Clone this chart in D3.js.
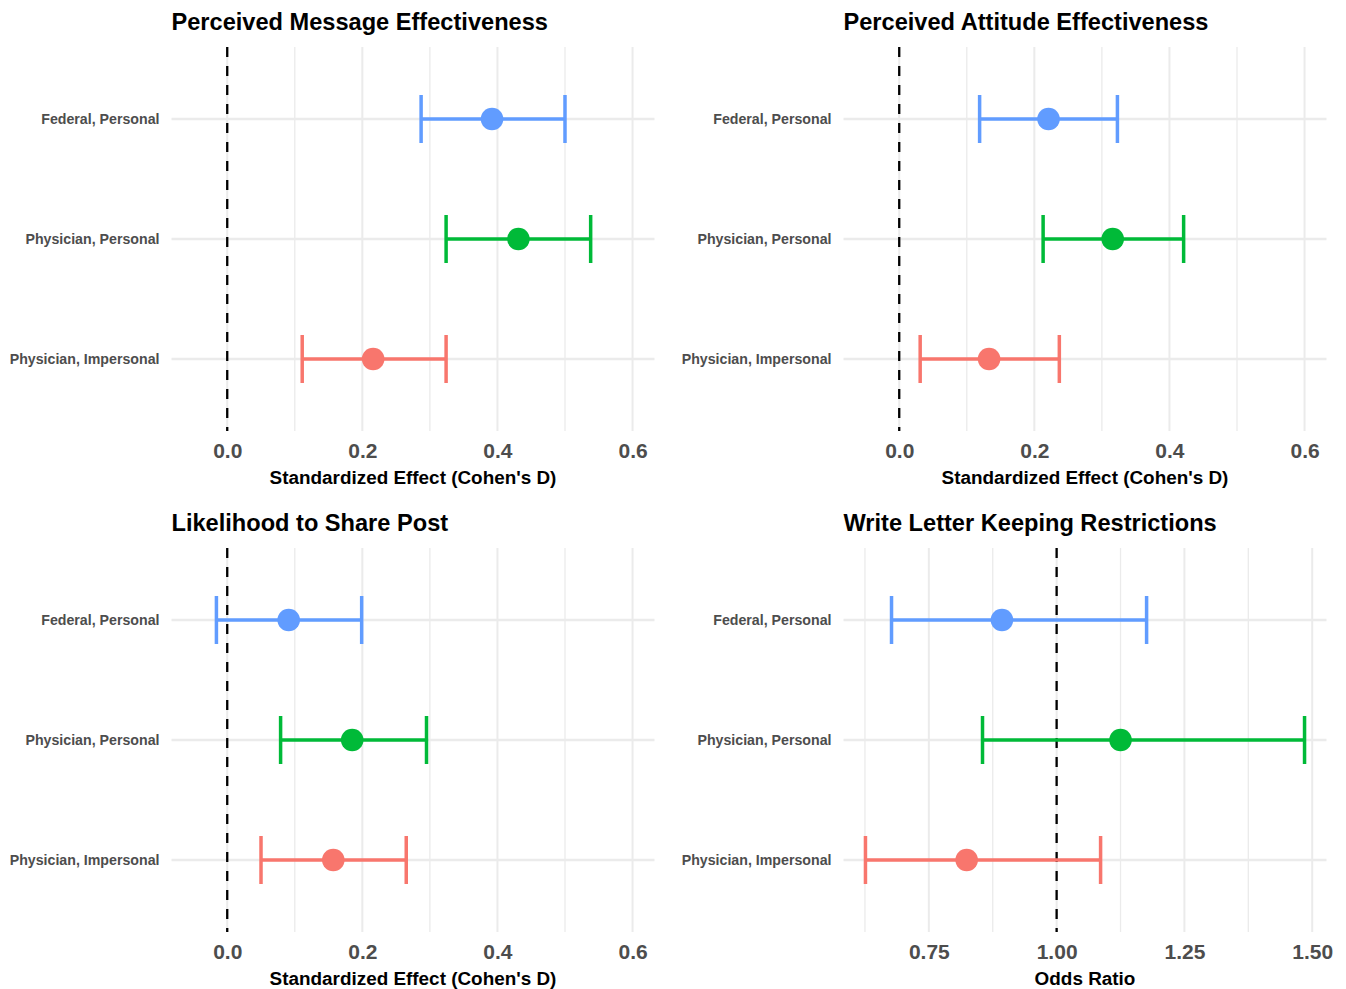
<!DOCTYPE html>
<html>
<head>
<meta charset="utf-8">
<script src="https://cdn.jsdelivr.net/npm/d3@7"></script>
<style>
  html, body { margin: 0; padding: 0; background: #fff; }
  svg { display: block; font-family: "Liberation Sans", Arial, Helvetica, sans-serif; }
</style>
</head>
<body>
<svg id="chart" width="1346" height="989"></svg>
<script>
// ---- data ----
const categories = ["Federal, Personal", "Physician, Personal", "Physician, Impersonal"];
const colors = ["#619CFF", "#00BA38", "#F8766D"];

const titles = [
  "Perceived Message Effectiveness",
  "Perceived Attitude Effectiveness",
  "Likelihood to Share Post",
  "Write Letter Keeping Restrictions"
];
const xTitles = [
  "Standardized Effect (Cohen's D)",
  "Standardized Effect (Cohen's D)",
  "Standardized Effect (Cohen's D)",
  "Odds Ratio"
];
const refLines = [0, 0, 0, 1];

// estimates, lower, upper (order follows categories)
const est1 = [0.392, 0.431, 0.216], lo1 = [0.287, 0.324, 0.111], hi1 = [0.500, 0.538, 0.324];
const est2 = [0.221, 0.316, 0.133], lo2 = [0.119, 0.213, 0.031], hi2 = [0.323, 0.421, 0.237];
const est3 = [0.091, 0.185, 0.157], lo3 = [-0.016, 0.079, 0.050], hi3 = [0.199, 0.295, 0.265];
const est4 = [0.893, 1.125, 0.824], lo4 = [0.677, 0.855, 0.626], hi4 = [1.176, 1.485, 1.086];

const ests = [est1, est2, est3, est4];
const los = [lo1, lo2, lo3, lo4];
const his = [hi1, hi2, hi3, hi4];

const effLimits = [-0.05, 0.6];
const effMajor = [0.0, 0.2, 0.4, 0.6];
const effMinor = [0.1, 0.3, 0.5];
const orMajor = [0.75, 1.00, 1.25, 1.50];
const orMinor = [0.625, 0.875, 1.125, 1.375];

// ---- layout ----
const svg = d3.select("#chart");
const panels = [
  {x0: 171.5, x1: 654.5, y0: 47, y1: 431},
  {x0: 843.5, x1: 1326.5, y0: 47, y1: 431},
  {x0: 171.5, x1: 654.5, y0: 548, y1: 932},
  {x0: 843.5, x1: 1326.5, y0: 548, y1: 932}
];

function expand(lim) {
  const r = lim[1] - lim[0];
  return [lim[0] - 0.05 * r, lim[1] + 0.05 * r];
}

panels.forEach((p, i) => {
  const g = svg.append("g");
  let dom, major, minor, fmt;
  if (i < 3) {
    dom = expand(effLimits); major = effMajor; minor = effMinor; fmt = d3.format(".1f");
  } else {
    dom = expand([d3.min(los[i]), d3.max(his[i])]); major = orMajor; minor = orMinor; fmt = d3.format(".2f");
  }
  const x = d3.scaleLinear().domain(dom).range([p.x0, p.x1]);
  const y = d3.scalePoint().domain(categories).range([p.y0, p.y1]).padding(0.6);

  // grid
  g.selectAll(".minor").data(minor).enter().append("line")
    .attr("x1", d => x(d)).attr("x2", d => x(d))
    .attr("y1", p.y0).attr("y2", p.y1)
    .attr("stroke", "#EBEBEB").attr("stroke-width", 1.3);
  g.selectAll(".major").data(major).enter().append("line")
    .attr("x1", d => x(d)).attr("x2", d => x(d))
    .attr("y1", p.y0).attr("y2", p.y1)
    .attr("stroke", "#EBEBEB").attr("stroke-width", 2);
  g.selectAll(".hmajor").data(categories).enter().append("line")
    .attr("x1", p.x0).attr("x2", p.x1)
    .attr("y1", d => y(d)).attr("y2", d => y(d))
    .attr("stroke", "#EBEBEB").attr("stroke-width", 2.4);

  // reference line
  g.append("line")
    .attr("x1", x(refLines[i])).attr("x2", x(refLines[i]))
    .attr("y1", p.y0).attr("y2", p.y1)
    .attr("stroke", "#000").attr("stroke-width", 2.3)
    .attr("stroke-dasharray", "10,9");

  // error bars
  const capH = y.step() * 0.4;
  categories.forEach((c, k) => {
    const cy = y(c);
    const col = colors[k];
    g.append("line")
      .attr("x1", x(los[i][k])).attr("x2", x(his[i][k]))
      .attr("y1", cy).attr("y2", cy)
      .attr("stroke", col).attr("stroke-width", 3.5);
    [los[i][k], his[i][k]].forEach(v => {
      g.append("line")
        .attr("x1", x(v)).attr("x2", x(v))
        .attr("y1", cy - capH / 2).attr("y2", cy + capH / 2)
        .attr("stroke", col).attr("stroke-width", 3.5);
    });
    g.append("circle")
      .attr("cx", x(ests[i][k])).attr("cy", cy).attr("r", 11.3)
      .attr("fill", col);
  });

  // x axis
  const xa = g.append("g").attr("transform", `translate(0,${p.y1 + 12})`)
    .call(d3.axisBottom(x).tickValues(major).tickFormat(fmt).tickSize(0).tickPadding(0));
  xa.select(".domain").remove();
  xa.selectAll("text")
    .attr("dy", "0.71em")
    .attr("fill", "#4D4D4D")
    .style("font-size", "21px").style("font-weight", "bold")
    .style("font-family", "'Liberation Sans', Arial, sans-serif");

  // y axis
  const ya = g.append("g").attr("transform", `translate(${p.x0 - 12},0)`)
    .call(d3.axisLeft(y).tickSize(0).tickPadding(0));
  ya.select(".domain").remove();
  ya.selectAll("text")
    .attr("fill", "#4D4D4D")
    .style("font-size", "14.2px").style("font-weight", "bold")
    .style("font-family", "'Liberation Sans', Arial, sans-serif");

  // x title
  g.append("text")
    .attr("x", (p.x0 + p.x1) / 2).attr("y", p.y1 + 53)
    .attr("text-anchor", "middle")
    .style("font-size", "18.9px").style("font-weight", "bold")
    .attr("fill", "#000")
    .text(xTitles[i]);

  // panel title
  g.append("text")
    .attr("x", p.x0).attr("y", p.y0 - 17)
    .style("font-size", "23.6px").style("font-weight", "bold")
    .attr("fill", "#000")
    .text(titles[i]);
});
</script>
</body>
</html>
